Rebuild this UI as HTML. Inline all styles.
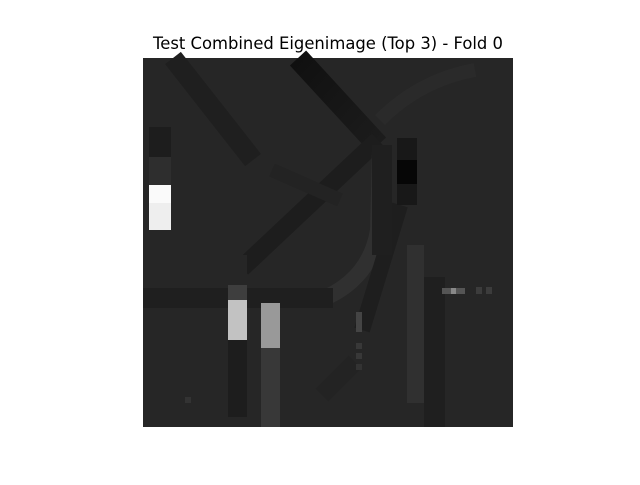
<!DOCTYPE html>
<html><head><meta charset="utf-8"><style>
body{margin:0;background:#fff;width:640px;height:480px;overflow:hidden}
</style></head><body>
<svg width="640" height="480" xmlns="http://www.w3.org/2000/svg">
<defs>
<linearGradient id="g1" x1="0" y1="0" x2="1" y2="1"><stop offset="0" stop-color="#101010"/><stop offset="1" stop-color="#1c1c1c"/></linearGradient>
</defs>
<text x="328" y="49" text-anchor="middle" font-family="DejaVu Sans, Liberation Sans, sans-serif" font-size="16.4" fill="#000">Test Combined Eigenimage (Top 3) - Fold 0</text>
<g>
<rect x="143" y="58" width="370" height="369" fill="#262626"/>
<line x1="173" y1="58" x2="253" y2="160" stroke="#1f1f1f" stroke-width="20"/>
<line x1="298" y1="58" x2="378" y2="145" stroke="url(#g1)" stroke-width="22"/>
<line x1="242" y1="268" x2="378" y2="140" stroke="#1d1d1d" stroke-width="18"/>
<path d="M320 300 Q370 280 378 230 L380 150" stroke="#303030" stroke-width="16" fill="none"/>
<path d="M380 120 Q420 80 475 70" stroke="#2a2a2a" stroke-width="14" fill="none"/>
<path d="M362 330 L400 205" stroke="#1e1e1e" stroke-width="16" fill="none"/>
<path d="M272 170 L340 200" stroke="#232323" stroke-width="14" fill="none"/>
<line x1="322" y1="395" x2="355" y2="362" stroke="#232323" stroke-width="18"/>
<rect x="143" y="288" width="190" height="20" fill="#1f1f1f"/>
<rect x="149" y="127" width="22" height="30" fill="#1d1d1d"/>
<rect x="149" y="157" width="22" height="28" fill="#2e2e2e"/>
<rect x="149" y="185" width="22" height="45" fill="#eeeeee"/>
<rect x="149" y="185" width="22" height="18" fill="#fafafa"/>
<rect x="228" y="255" width="19" height="35" fill="#262626"/>
<rect x="228" y="285" width="19" height="15" fill="#3e3e3e"/>
<rect x="228" y="300" width="19" height="40" fill="#c2c2c2"/>
<rect x="228" y="340" width="19" height="77" fill="#1d1d1d"/>
<rect x="261" y="303" width="19" height="45" fill="#999999"/>
<rect x="261" y="348" width="19" height="79" fill="#383838"/>
<rect x="372" y="145" width="20" height="110" fill="#1f1f1f"/>
<rect x="397" y="138" width="20" height="67" fill="#181818"/>
<rect x="397" y="160" width="20" height="24" fill="#060606"/>
<rect x="407" y="245" width="17" height="158" fill="#303030"/>
<rect x="424" y="277" width="21" height="150" fill="#1f1f1f"/>
<rect x="442" y="288" width="23" height="6" fill="#555"/>
<rect x="451" y="288" width="5" height="6" fill="#888"/>
<rect x="476" y="287" width="6" height="7" fill="#3c3c3c"/>
<rect x="486" y="287" width="6" height="7" fill="#3c3c3c"/>
<rect x="356" y="312" width="6" height="20" fill="#444"/>
<rect x="356" y="343" width="6" height="6" fill="#383838"/>
<rect x="356" y="353" width="6" height="6" fill="#383838"/>
<rect x="356" y="364" width="6" height="6" fill="#333"/>
<rect x="185" y="397" width="6" height="6" fill="#333"/>
</g>
</svg>
</body></html>
